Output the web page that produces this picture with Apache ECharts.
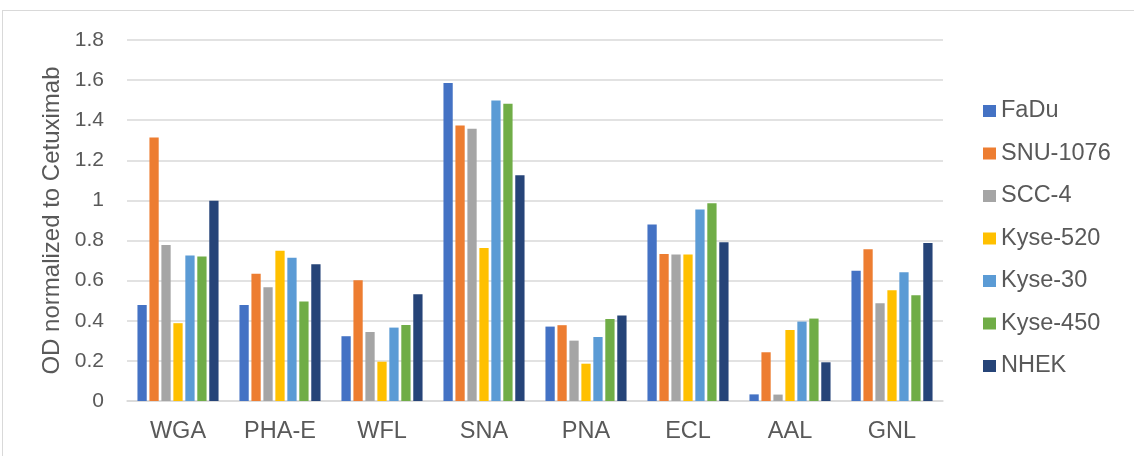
<!DOCTYPE html>
<html>
<head>
<meta charset="utf-8">
<script src="https://cdn.jsdelivr.net/npm/echarts@6/dist/echarts.min.js"></script>
<style>
  html, body { margin: 0; padding: 0; background: #ffffff; }
  #frame { position: absolute; left: 2px; top: 10px; width: 1140px; height: 460px; border: 1.5px solid #d9d9d9; box-sizing: border-box; }
  #chart { width: 1134px; height: 456px; position: absolute; left: 0; top: 0; }
</style>
</head>
<body>
<div id="frame"></div>
<div id="chart"></div>
<script>
// Lectin panel categories and per-cell-line OD values (normalized to Cetuximab)
const lectins = ['WGA', 'PHA-E', 'WFL', 'SNA', 'PNA', 'ECL', 'AAL', 'GNL'];

const fadu     = [0.479, 0.479, 0.323, 1.585, 0.371, 0.880, 0.033, 0.650];
const snu1076  = [1.314, 0.634, 0.602, 1.374, 0.378, 0.733, 0.243, 0.757];
const scc4     = [0.778, 0.567, 0.344, 1.357, 0.301, 0.730, 0.032, 0.487];
const kyse520  = [0.388, 0.749, 0.196, 0.763, 0.186, 0.730, 0.354, 0.552];
const kyse30   = [0.725, 0.714, 0.366, 1.498, 0.319, 0.955, 0.396, 0.642];
const kyse450  = [0.720, 0.496, 0.379, 1.482, 0.409, 0.986, 0.411, 0.527];
const nhek     = [0.998, 0.682, 0.532, 1.126, 0.426, 0.792, 0.193, 0.788];

const seriesNames = ['FaDu', 'SNU-1076', 'SCC-4', 'Kyse-520', 'Kyse-30', 'Kyse-450', 'NHEK'];
const seriesValues = [fadu, snu1076, scc4, kyse520, kyse30, kyse450, nhek];
const palette = ['#4472C4', '#ED7D31', '#A5A5A5', '#FFC000', '#5B9BD5', '#70AD47', '#264478'];

const FONT = '"Liberation Sans", Arial, sans-serif';
const TEXT = '#595959';

const chart = echarts.init(document.getElementById('chart'), null, { renderer: 'canvas' });

chart.setOption({
  animation: false,
  color: palette,
  grid: { left: 127, right: 191, top: 40, bottom: 55, containLabel: false },
  legend: {
    orient: 'vertical',
    left: 978,
    top: 94,
    itemWidth: 13,
    itemHeight: 12,
    itemGap: 18.5,
    icon: 'rect',
    textStyle: { fontFamily: FONT, fontSize: 23.5, lineHeight: 24, color: TEXT },
    data: seriesNames
  },
  xAxis: {
    type: 'category',
    data: lectins,
    axisTick: { show: false },
    axisLine: { lineStyle: { color: '#d9d9d9', width: 1.5 } },
    axisLabel: { fontFamily: FONT, fontSize: 23.5, color: TEXT, margin: 19 }
  },
  yAxis: {
    type: 'value',
    min: 0,
    max: 1.8,
    interval: 0.2,
    name: 'OD normalized to Cetuximab',
    nameLocation: 'middle',
    nameRotate: 90,
    nameGap: 62,
    nameTextStyle: { fontFamily: FONT, fontSize: 24, color: TEXT },
    axisLine: { show: false },
    axisTick: { show: false },
    splitLine: { lineStyle: { color: '#d9d9d9', width: 1.5 } },
    axisLabel: {
      fontFamily: FONT, fontSize: 21, color: TEXT, margin: 23,
      formatter: v => String(Math.round(v * 10) / 10)
    }
  },
  series: seriesNames.map((name, i) => ({
    name: name,
    type: 'bar',
    data: seriesValues[i],
    barGap: '29%',
    barCategoryGap: '20.5%'
  }))
});
</script>
</body>
</html>
